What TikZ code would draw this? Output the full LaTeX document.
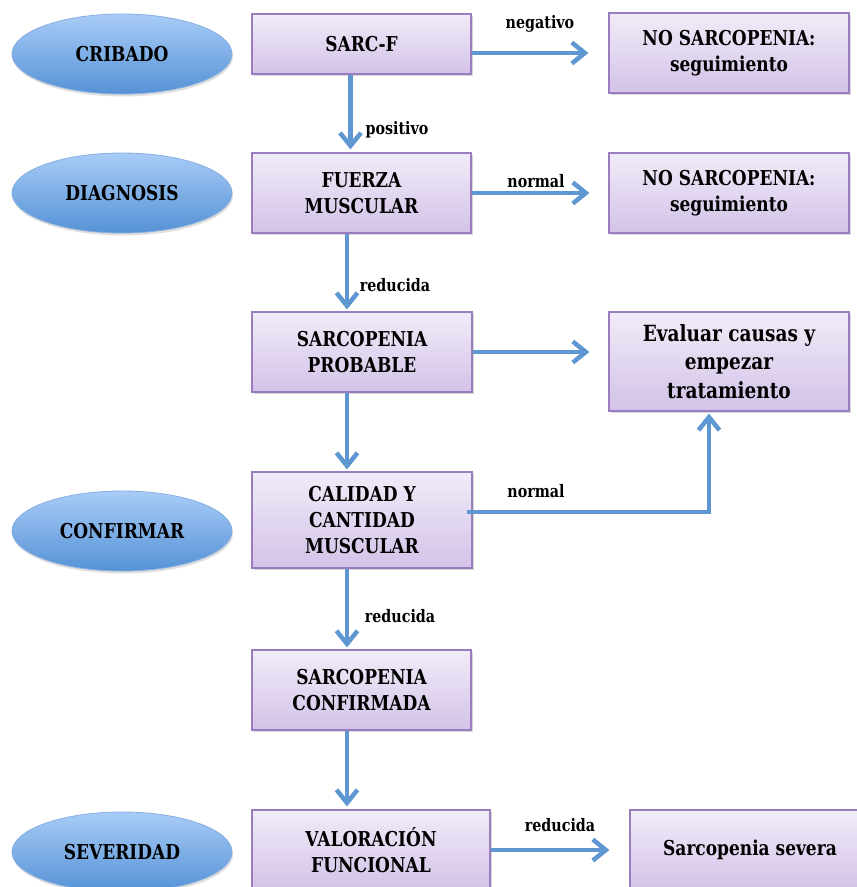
\documentclass[tikz,border=0pt]{standalone}
\usepackage{fontspec}
\setmainfont{DejaVu Serif}[FakeStretch=0.83]
\usetikzlibrary{arrows.meta,shadows,shapes.geometric,calc}
\definecolor{arrowblue}{HTML}{5F97D2}
\definecolor{boxtop}{HTML}{F1ECF8}
\definecolor{boxbot}{HTML}{D3C2E8}
\definecolor{boxline}{HTML}{9A7DBE}
\definecolor{elltop}{HTML}{A8CCF7}
\definecolor{ellbot}{HTML}{5592D6}
\definecolor{ellline}{HTML}{86AEDF}
\begin{document}
\begin{tikzpicture}[x=1pt,y=-1pt,
 box/.style={rectangle, draw=boxline, line width=1.2pt, top color=boxtop, bottom color=boxbot,
   align=center, inner sep=2pt, font=\fontsize{20.5}{26}\selectfont\bfseries,
   drop shadow={shadow xshift=2pt, shadow yshift=-2pt, opacity=0.3}},
 ell/.style={ellipse, draw=ellline, line width=0.8pt, top color=elltop, bottom color=ellbot,
   minimum width=220pt, minimum height=80pt, inner sep=0pt, font=\fontsize{20.5}{24}\selectfont\bfseries,
   drop shadow={shadow xshift=1pt, shadow yshift=-2.5pt, opacity=0.25}},
 arr/.style={draw=arrowblue, line width=4.5pt, -{Straight Barb[length=13pt 0, width=21pt 0]}},
 lab/.style={font=\fontsize{17.2}{20}\selectfont\bfseries, inner sep=0pt}]
\useasboundingbox (0,0) rectangle (857,887);
\fill[white] (0,0) rectangle (857,887);

% stage ellipses
\node[ell] (cribado) at (122,54) {CRIBADO};
\node[ell] (diag) at (122,193) {DIAGNOSIS};
\node[ell] (confir) at (122,531) {CONFIRMAR};
\node[ell] (sev) at (122,852) {SEVERIDAD};

% boxes
\node[box, minimum width=219pt, minimum height=60pt] (sarcf) at (361.5,44) {SARC-F};
\node[box, minimum width=240pt, minimum height=80pt] (no1) at (729,53) {NO SARCOPENIA:\\seguimiento};
\node[box, minimum width=219pt, minimum height=80pt] (fuerza) at (361.5,193) {FUERZA\\MUSCULAR};
\node[box, minimum width=240pt, minimum height=80pt] (no2) at (729,193) {NO SARCOPENIA:\\seguimiento};
\node[box, minimum width=220pt, minimum height=80pt] (prob) at (362,352) {SARCOPENIA\\PROBABLE};
\node[box, minimum width=240pt, minimum height=99pt, font=\fontsize{22.3}{28.5}\selectfont\bfseries] (eval) at (729,361.5) {Evaluar causas y\\empezar\\tratamiento};
\node[box, minimum width=220pt, minimum height=96pt] (cal) at (362,520) {CALIDAD Y\\CANTIDAD\\MUSCULAR};
\node[box, minimum width=219pt, minimum height=80pt] (confd) at (361.5,690) {SARCOPENIA\\CONFIRMADA};
\node[box, minimum width=238pt, minimum height=80pt] (val) at (371,850) {VALORACIÓN\\FUNCIONAL};
\node[box, minimum width=240pt, minimum height=80pt] (severa) at (750,850) {Sarcopenia severa};

% connectors
\draw[arr] (sarcf.east |- no1.west) -- ($(no1.west)+(-20,0)$);
\draw[arr] ($(sarcf.south)+(-11,0)$) -- ($(sarcf.south|-fuerza.north)+(-11,-3)$);
\draw[arr] (fuerza.east) -- ($(no2.west)+(-19,0)$);
\draw[arr] ($(fuerza.south)+(-14.5,0)$) -- ($(fuerza.south|-prob.north)+(-14.5,-2)$);
\draw[arr] (prob.east) -- ($(eval.west|-prob.east)+(-19,0)$);
\draw[arr] ($(prob.south)+(-15,0)$) -- ($(prob.south|-cal.north)+(-15,-2)$);
\draw[arr] ($(cal.east)+(-6,-8)$) -| ($(eval.south)+(-20,2)$);
\draw[arr] ($(cal.south)+(-15,0)$) -- ($(cal.south|-confd.north)+(-15,-2)$);
\draw[arr] ($(confd.south)+(-14.5,0)$) -- ($(confd.south|-val.north)+(-14.5,-3)$);
\draw[arr] (val.east) -- ($(severa.west)+(-20,0)$);

% labels
\node[lab] (l1) at (540,24) {negativo};
\node[lab] (l2) at (397,130) {positivo};
\node[lab] (l3) at (536,181) {normal};
\node[lab] (l4) at (395,285) {reducida};
\node[lab] (l5) at (536,491) {normal};
\node[lab] (l6) at (400,616) {reducida};
\node[lab] (l7) at (560,825) {reducida};
\end{tikzpicture}
\end{document}
